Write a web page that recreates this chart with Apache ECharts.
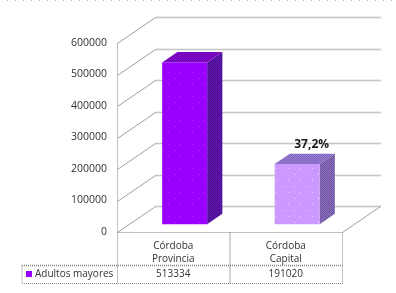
<!DOCTYPE html>
<html><head><meta charset="utf-8">
<style>html,body{margin:0;padding:0;background:#fff}#c{width:396px;height:293px}</style>
<script src="https://cdn.jsdelivr.net/npm/echarts@6/dist/echarts.min.js"></script>
</head><body><div id="c"></div>
<script>
const categories = ['Córdoba\nProvincia', 'Córdoba\nCapital'];
const seriesName = 'Adultos mayores';
const values = [513334, 191020];
const pointLabels = ['', '37,2%'];
const yTicks = [0, 100000, 200000, 300000, 400000, 500000, 600000];

const FONT = '"Open Sans", sans-serif';
const TEXT = '#333333';
const LINE = '#858585';
const DX = 38, DY = 26;           // wall depth offset
const TABLE_H1 = 33, TABLE_H2 = 51, TABLE_LEFT = 22;

function pattern(base, dot, step, checker) {
  const c = document.createElement('canvas');
  c.width = c.height = step;
  const g = c.getContext('2d');
  g.fillStyle = base; g.fillRect(0, 0, step, step);
  g.fillStyle = dot;
  if (checker) { g.fillRect(0, 0, 1, 1); g.fillRect(1, 1, 1, 1); }
  else { g.fillRect(0, 0, 1, 1); g.fillRect(step / 2, step / 2, 1, 1); }
  return { image: c, repeat: 'repeat' };
}
const skins = [
  { front: pattern('#9900ff', '#c030ff', 12), top: pattern('#8600d8', '#6a10a8', 2, true), side: pattern('#5e08b0', '#4c1c90', 2, true) },
  { front: pattern('#cc99ff', '#f0d0ff', 12), top: pattern('#9a78d8', '#8068b8', 2, true), side: pattern('#8a68c0', '#6f5c9c', 2, true) }
];

const dash = { stroke: LINE, lineWidth: 1, lineDash: [1, 1] };
function ln(x1, y1, x2, y2, extra) {
  return { type: 'line', shape: { x1, y1, x2, y2 }, style: Object.assign({}, dash, extra || {}), silent: true };
}
function px(v) { return Math.round(v) + 0.5; }

const option = {
  animation: false,
  backgroundColor: '#ffffff',
  textStyle: { fontFamily: FONT },
  grid: { left: 117, right: 54, top: 43, bottom: 61, containLabel: false },
  legend: {
    show: true, left: 26, top: 269, itemWidth: 6, itemHeight: 6, itemGap: 0,
    padding: 0, selectedMode: false,
    textStyle: { fontFamily: FONT, fontSize: 10, color: TEXT, padding: [0, 0, 0, -2] },
    data: [{ name: seriesName, icon: 'rect', itemStyle: { color: '#9900ff' } }]
  },
  xAxis: {
    type: 'category', data: categories,
    axisLine: { show: false }, axisTick: { show: false },
    axisLabel: { fontFamily: FONT, fontSize: 10, color: TEXT, lineHeight: 13, margin: 8, interval: 0 }
  },
  yAxis: {
    type: 'value', min: 0, max: 600000, interval: 100000,
    axisLine: { show: false }, axisTick: { show: false }, splitLine: { show: false },
    axisLabel: { fontFamily: FONT, fontSize: 10.5, color: TEXT, margin: 10, formatter: v => String(v) }
  },
  graphic: [{
    type: 'line', silent: true,
    shape: { x1: 7, y1: 0.5, x2: 396, y2: 0.5 },
    style: { stroke: '#b5b5b5', lineWidth: 1, lineDash: [1, 7] }
  }],
  series: [
    {
      type: 'custom', name: 'walls', z: 1, silent: true, legendHoverLink: false,
      coordinateSystem: 'cartesian2d',
      data: yTicks.map(v => [0, v]),
      renderItem(params, api) {
        const cs = params.coordSys;
        const y = api.coord([0, api.value(1)])[1];
        const L = px(cs.x), R = px(cs.x + cs.width), Y = px(y);
        const kids = [
          ln(L, Y, L + DX, Y - DY, { lineDash: null, stroke: '#a0a0a0' }),
          ln(L + DX, Y - DY, R + DX, Y - DY, { lineWidth: 1.6, stroke: '#909090' })
        ];
        if (api.value(1) === 0) {
          kids.push(ln(L, Y, R, Y), ln(R, Y, R + DX, Y - DY, { lineDash: null, stroke: '#a0a0a0' }));
          kids.push(ln(L, px(cs.y), L, Y + TABLE_H2));
          kids.push(ln(R, Y, R, Y + TABLE_H2));
          kids.push(ln(L + cs.width / 2, Y, L + cs.width / 2, Y + TABLE_H2, { lineWidth: 1.4 }));
          kids.push(ln(TABLE_LEFT, Y + TABLE_H1, R, Y + TABLE_H1, { lineWidth: 1.6 }));
          kids.push(ln(TABLE_LEFT, Y + TABLE_H2, R, Y + TABLE_H2));
          kids.push(ln(TABLE_LEFT, Y + TABLE_H1, TABLE_LEFT, Y + TABLE_H2));
        }
        return { type: 'group', children: kids };
      },
      encode: { x: 0, y: 1 }
    },
    {
      type: 'custom', name: seriesName, z: 3, silent: true,
      coordinateSystem: 'cartesian2d',
      itemStyle: { color: '#9900ff' },
      data: values.map((v, i) => [i, v]),
      renderItem(params, api) {
        const i = api.value(0), v = api.value(1);
        const p = api.coord([i, v]), p0 = api.coord([i, 0]);
        const band = api.size([1, 0])[0];
        const w = band * 0.4;
        const ox = DX * 0.3, oy = DY * 0.3, bx = DX * 0.4, by = DY * 0.4;
        const x0 = p[0] + ox - w / 2, x1 = x0 + w;
        const yb = p0[1] - oy, yt = p[1] - oy;
        const s = skins[i];
        const edge = { stroke: 'rgba(255,255,255,0)', lineWidth: 0 };
        return {
          type: 'group',
          children: [
            { type: 'polygon', shape: { points: [[x1, yb], [x1 + bx, yb - by], [x1 + bx, yt - by], [x1, yt]] }, style: Object.assign({ fill: s.side }, edge) },
            { type: 'polygon', shape: { points: [[x0, yt], [x0 + bx, yt - by], [x1 + bx, yt - by], [x1, yt]] }, style: Object.assign({ fill: s.top }, edge) },
            { type: 'rect', shape: { x: x0, y: yt, width: w, height: yb - yt }, style: Object.assign({ fill: s.front }, edge) },
            { type: 'text', style: { x: x1 - 8, y: yt - by - 3, text: pointLabels[i], fill: '#1a1a1a', font: 'bold 12px ' + FONT, textAlign: 'center', textVerticalAlign: 'bottom' } },
            { type: 'text', style: { x: p[0], y: p0[1] + 42.5, text: String(v), fill: TEXT, font: '10px ' + FONT, textAlign: 'center', textVerticalAlign: 'middle' } }
          ]
        };
      },
      encode: { x: 0, y: 1 }
    }
  ]
};
const chart = echarts.init(document.getElementById('c'), null, { renderer: 'canvas' });
chart.setOption(option);
</script></body></html>
